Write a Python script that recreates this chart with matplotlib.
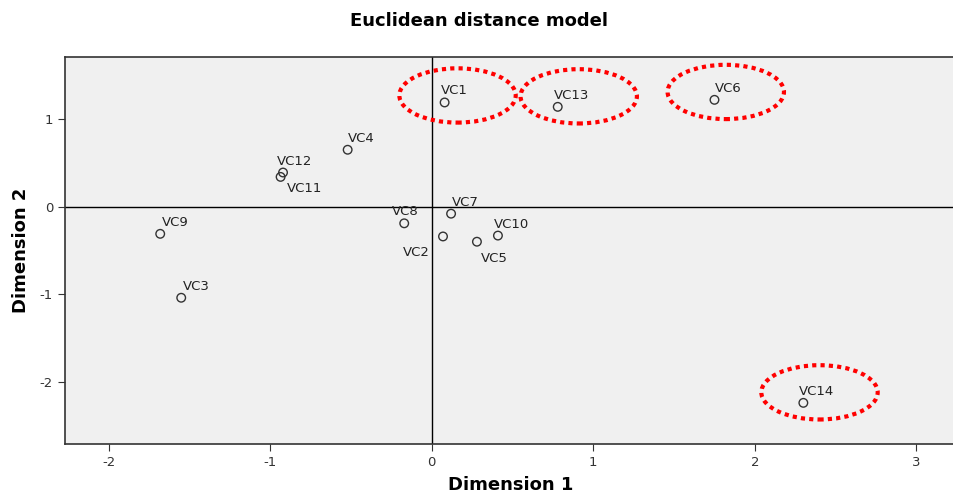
import matplotlib.pyplot as plt
from matplotlib.patches import Ellipse

# coordenadas de los estimulos (modelo euclidiano)
etiquetas = ["VC1", "VC2", "VC3", "VC4", "VC5", "VC6", "VC7", "VC8", "VC9",
             "VC10", "VC11", "VC12", "VC13", "VC14"]
dim1 = [0.08, 0.07, -1.55, -0.52, 0.28, 1.75, 0.12, -0.17, -1.68,
        0.41, -0.935, -0.92, 0.78, 2.30]
dim2 = [1.19, -0.34, -1.04, 0.65, -0.40, 1.22, -0.08, -0.19, -0.31,
        -0.33, 0.34, 0.39, 1.14, -2.24]

# posicion relativa de cada etiqueta (en pixeles)
desplaz = {"VC1": (-4, 8), "VC2": (-40, -20), "VC3": (2, 8), "VC4": (0, 8),
           "VC5": (4, -20), "VC6": (0, 8), "VC7": (1, 8), "VC8": (-12, 8),
           "VC9": (2, 8), "VC10": (-4, 8), "VC11": (6, -15), "VC12": (-6, 8),
           "VC13": (-4, 8), "VC14": (-4, 8)}

centros_elipse = [(0.16, 1.27), (0.91, 1.26), (1.82, 1.31), (2.40, -2.12)]

plt.rcParams['font.family'] = ['DejaVu Sans']
plt.rcParams['axes.unicode_minus'] = False

fig = plt.figure(figsize=(9.54, 4.95), dpi=100)
ax = fig.add_axes([0.068, 0.103, 0.935, 0.782])
ax.set_facecolor('#f0f0f0')

ax.axhline(0, color='black', lw=1, zorder=1)
ax.axvline(0, color='black', lw=1, zorder=1)

ax.scatter(dim1, dim2, s=38, facecolors='none', edgecolors='#333333',
           linewidths=1, zorder=3)

for et, x, y in zip(etiquetas, dim1, dim2):
    dx, dy = desplaz[et]
    ax.annotate(et, (x, y), xytext=(dx, dy), textcoords='offset pixels',
                fontsize=9.5, color='#222222', zorder=4)

for c in centros_elipse:
    e = Ellipse(c, width=0.72, height=0.62, fill=False, edgecolor='red',
                lw=3, linestyle=(0, (1, 1)), zorder=5)
    ax.add_patch(e)

ax.set_xlim(-2.27, 3.25)
ax.set_ylim(-2.71, 1.71)
ax.set_xticks([-2, -1, 0, 1, 2, 3])
ax.set_yticks([-2, -1, 0, 1])
ax.tick_params(direction='out', length=5, labelsize=9.5, colors='#333333')
for s in ax.spines.values():
    s.set_color('#333333')
    s.set_linewidth(1.2)

ax.set_xlabel('Dimension 1', fontsize=13, fontweight='bold', labelpad=5)
ax.set_ylabel('Dimension 2', fontsize=13, fontweight='bold', labelpad=7)
fig.text(0.502, 0.958, 'Euclidean distance model', ha='center', va='center',
         fontsize=13, fontweight='bold')

fig.savefig('out.png', dpi=100)
